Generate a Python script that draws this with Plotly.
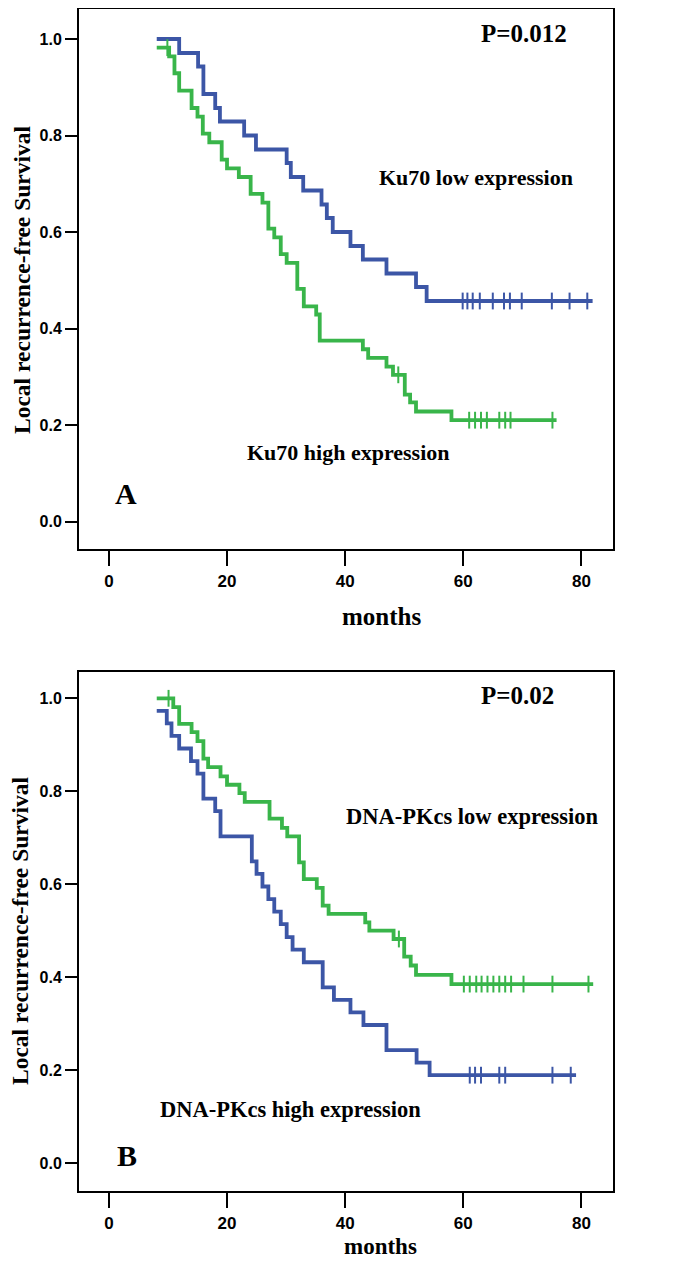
import plotly.graph_objects as go

# ---------------- Panel A: Ku70 ----------------
a_low_start = 8.1
a_low_times = [11.9, 15.1, 16.0, 18.0, 18.8, 22.9, 24.9, 30.1, 30.8, 32.9, 36.0, 36.9, 37.9, 40.9, 43.0, 47.0, 52.0, 53.8]
a_low_surv0 = 1.0
a_low_surv = [0.971, 0.943, 0.886, 0.857, 0.829, 0.800, 0.771, 0.743, 0.714, 0.686, 0.657, 0.629, 0.600, 0.571, 0.543, 0.514, 0.486, 0.457]
a_low_end = 81.9
a_low_censor = [59.9, 60.7, 61.6, 62.8, 65.0, 66.9, 67.9, 69.9, 75.0, 78.0, 81.0]

a_high_start = 8.1
a_high_times = [10.2, 11.1, 11.9, 14.0, 15.0, 15.9, 17.0, 19.1, 20.0, 22.0, 24.0, 26.0, 27.0, 28.0, 29.1, 30.1,
                31.9, 33.0, 35.1, 35.7, 43.0, 43.9, 47.0, 48.1, 50.1, 51.0, 52.0, 58.0]
a_high_surv0 = 0.982
a_high_surv = [0.964, 0.929, 0.893, 0.857, 0.839, 0.804, 0.786, 0.750, 0.732, 0.714, 0.679, 0.661, 0.607, 0.589,
               0.554, 0.536, 0.482, 0.446, 0.429, 0.375, 0.357, 0.339, 0.321, 0.304, 0.263, 0.247, 0.228, 0.210]
a_high_end = 75.8
a_high_censor = [9.9, 49.0, 61.0, 62.0, 63.0, 64.0, 66.1, 67.1, 68.0, 75.1]

# ---------------- Panel B: DNA-PKcs ----------------
b_low_start = 8.1
b_low_times = [10.9, 11.9, 14.0, 15.0, 16.0, 16.8, 18.9, 20.0, 22.1, 23.0, 27.2, 29.3, 30.2, 32.2, 33.0, 35.2,
               36.2, 37.2, 43.4, 44.1, 48.2, 50.0, 51.1, 52.0, 58.0]
b_low_surv0 = 1.0
b_low_surv = [0.981, 0.945, 0.927, 0.908, 0.870, 0.852, 0.832, 0.814, 0.796, 0.777, 0.741, 0.721, 0.703, 0.647,
              0.611, 0.592, 0.554, 0.536, 0.518, 0.500, 0.482, 0.444, 0.425, 0.405, 0.385]
b_low_end = 82.0
b_low_censor = [10.1, 49.1, 60.1, 61.1, 62.2, 63.1, 64.1, 65.1, 66.1, 67.1, 68.1, 70.2, 75.1, 81.2]

b_high_start = 8.1
b_high_times = [9.8, 10.6, 11.9, 13.9, 15.0, 16.0, 18.0, 18.9, 24.2, 25.0, 26.0, 27.0, 28.0, 29.1, 30.1, 31.1,
                33.0, 36.2, 38.1, 40.9, 43.1, 47.0, 52.1, 54.3]
b_high_surv0 = 0.973
b_high_surv = [0.946, 0.919, 0.892, 0.865, 0.838, 0.784, 0.757, 0.703, 0.649, 0.622, 0.595, 0.568, 0.541, 0.514,
               0.486, 0.459, 0.432, 0.378, 0.351, 0.324, 0.297, 0.243, 0.216, 0.189]
b_high_end = 79.1
b_high_censor = [61.1, 62.0, 63.0, 66.1, 67.1, 75.1, 78.2]

x_ticks = [0, 20, 40, 60, 80]
y_ticks = [0.0, 0.2, 0.4, 0.6, 0.8, 1.0]
y_tick_text = ["0.0", "0.2", "0.4", "0.6", "0.8", "1.0"]

BLUE = "#3C56A6"
GREEN = "#39B54A"

# the page body adds an 8px margin, so the figure is 8px smaller and shifted
OFF = 8
W, H = 685 - OFF, 1262 - OFF


def step_xy(start, s0, times, surv, end):
    xs = [start] + list(times) + [end]
    ys = [s0] + list(surv) + [surv[-1]]
    return xs, ys


def surv_at(t, start, s0, times, surv):
    val = s0
    for tt, ss in zip(times, surv):
        if t >= tt:
            val = ss
    return val


fig = go.Figure()

curves = [
    ("x", "y", BLUE, a_low_start, a_low_surv0, a_low_times, a_low_surv, a_low_end, a_low_censor),
    ("x", "y", GREEN, a_high_start, a_high_surv0, a_high_times, a_high_surv, a_high_end, a_high_censor),
    ("x2", "y2", GREEN, b_low_start, b_low_surv0, b_low_times, b_low_surv, b_low_end, b_low_censor),
    ("x2", "y2", BLUE, b_high_start, b_high_surv0, b_high_times, b_high_surv, b_high_end, b_high_censor),
]

for xa, ya, col, st, s0, tm, sv, en, cen in curves:
    xs, ys = step_xy(st, s0, tm, sv, en)
    fig.add_trace(go.Scatter(x=xs, y=ys, mode="lines", line=dict(color=col, width=3.8, shape="hv"),
                             xaxis=xa, yaxis=ya, showlegend=False, hoverinfo="skip"))
    cy = [surv_at(t, st, s0, tm, sv) for t in cen]
    fig.add_trace(go.Scatter(x=cen, y=cy, mode="markers",
                             marker=dict(symbol="line-ns", size=12, line=dict(color=col, width=2)),
                             xaxis=xa, yaxis=ya, showlegend=False, hoverinfo="skip"))

# reference pixel geometry: x=0 at px 108.9, 5.906 px per month
PX0, PXM = 108.9, 5.906
x0, x1 = 79, 613
xr = [(x0 - PX0) / PXM, (x1 - PX0) / PXM]


def fx(px):
    return (px - OFF) / W


def fy(py):
    return 1 - (py - OFF) / H


axis_common = dict(showgrid=False, zeroline=False, showline=True, linecolor="black", linewidth=2,
                   mirror=True, ticks="outside", tickcolor="black", tickwidth=2)
ytickfont = dict(family="Liberation Sans, Arial", size=16, color="black", weight="bold")
xtickfont = dict(family="Liberation Sans, Arial", size=17, color="black", weight="bold")

a_top, a_bot = 9, 549
b_top, b_bot = 672, 1191

fig.update_layout(
    width=W, height=H, margin=dict(l=0, r=0, t=0, b=0),
    paper_bgcolor="white", plot_bgcolor="white",
    xaxis=dict(domain=[fx(x0), fx(x1)], range=xr, anchor="y", tickvals=x_ticks, ticklen=15,
               ticklabelstandoff=1, tickfont=xtickfont, **axis_common),
    yaxis=dict(domain=[fy(a_bot), fy(a_top)], range=[(521.5 - a_bot) / 482.5, (521.5 - a_top) / 482.5], anchor="x",
               tickvals=y_ticks, ticktext=y_tick_text, ticklen=12, tickfont=ytickfont, **axis_common),
    xaxis2=dict(domain=[fx(x0), fx(x1)], range=xr, anchor="y2", tickvals=x_ticks, ticklen=15,
                ticklabelstandoff=1, tickfont=xtickfont, **axis_common),
    yaxis2=dict(domain=[fy(b_bot), fy(b_top)], range=[(1163 - b_bot) / 464.7, (1163 - b_top) / 464.7], anchor="x2",
                tickvals=y_ticks, ticktext=y_tick_text, ticklen=12, tickfont=ytickfont, **axis_common),
)

serif = "Liberation Serif, Times New Roman"
ann = []


def txt(text, x, y, size, xref="x", yref="y", angle=0):
    ann.append(dict(text=text, x=x, y=y, xref=xref, yref=yref, showarrow=False, textangle=angle,
                    xanchor="center", yanchor="middle",
                    font=dict(family=serif, size=size, color="black", weight="bold")))


txt("P=0.012", 70.3, 1.012, 25)
txt("Ku70 low expression", 62.2, 0.714, 22)
txt("Ku70 high expression", 40.5, 0.142, 22)
txt("A", 2.9, 0.059, 30)
txt("months", fx(381), fy(616), 25, "paper", "paper")
txt("Local recurrence-free Survival", fx(22), fy(280), 23.5, "paper", "paper", -90)

txt("P=0.02", 69.1, 1.005, 25, "x2", "y2")
txt("DNA-PKcs low expression", 61.5, 0.745, 22.5, "x2", "y2")
txt("DNA-PKcs high expression", 30.7, 0.116, 22.5, "x2", "y2")
txt("B", 3.1, 0.017, 30, "x2", "y2")
txt("months", fx(380), fy(1246), 23, "paper", "paper")
txt("Local recurrence-free Survival", fx(20), fy(931), 23.5, "paper", "paper", -90)

fig.update_layout(annotations=ann)
fig.write_html("out.html")
